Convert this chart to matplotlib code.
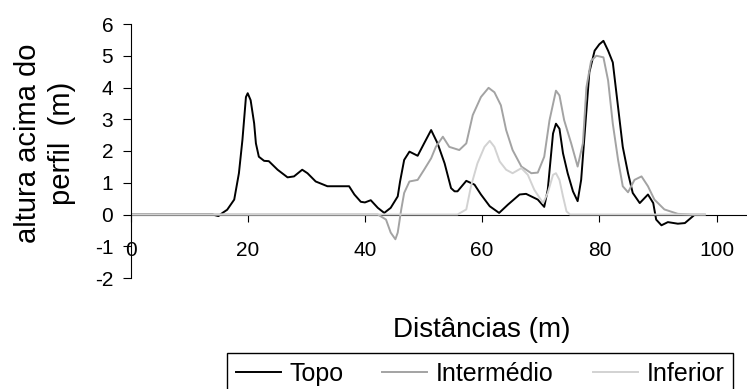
import matplotlib
matplotlib.use("Agg")
import matplotlib.pyplot as plt

plt.rcParams['font.family'] = ['Liberation Sans', 'DejaVu Sans']
plt.rcParams['axes.unicode_minus'] = False

# perfil Topo
topo_d = [0, 14, 15, 15.7, 16.5, 17.7, 18.5, 19.1, 19.7, 20, 20.5, 21.1, 21.4, 21.9, 22.8,
          23.6, 25.1, 26.8, 27.9, 29.3, 30.2, 31.6, 33.6, 37.3, 38.2, 39.3, 40.0, 41, 42.2,
          43.3, 44.4, 45.6, 46, 46.7, 47.6, 49, 50.1, 51.3, 52.4, 53.6, 54.7, 55.3, 55.8,
          57.3, 58.7, 59.8, 61.3, 62.9, 64.4, 66.4, 67.5, 69.5, 70.6, 71.2, 72.1, 72.6,
          73.2, 73.8, 74.6, 75.5, 76.3, 76.9, 77.8, 78.3, 79.2, 80, 80.7, 81.5, 82.3, 83.2,
          84, 84.9, 85.7, 86.9, 88.3, 89.2, 89.7, 90.6, 91.7, 93.4, 94.6, 96]
topo_h = [0, 0, -0.05, 0.05, 0.15, 0.47, 1.3, 2.35, 3.7, 3.82, 3.6, 2.87, 2.24, 1.82, 1.69,
          1.68, 1.41, 1.17, 1.2, 1.41, 1.3, 1.04, 0.89, 0.89, 0.63, 0.4, 0.38, 0.45, 0.21,
          0.05, 0.21, 0.57, 1.04, 1.72, 1.98, 1.85, 2.24, 2.66, 2.24, 1.61, 0.83, 0.73, 0.73,
          1.06, 0.94, 0.63, 0.26, 0.05, 0.31, 0.63, 0.65, 0.47, 0.24, 0.78, 2.55, 2.86,
          2.7, 1.93, 1.3, 0.73, 0.42, 1.09, 3.28, 4.48, 5.16, 5.36, 5.47, 5.16, 4.79, 3.38,
          2.13, 1.3, 0.68, 0.36, 0.63, 0.36, -0.16, -0.34, -0.24, -0.29, -0.27, -0.05]

# perfil Intermedio
inter_d = [0, 42.2, 43.6, 44.4, 45.2, 45.6, 46.2, 46.7, 47.6, 49, 50.1, 51.3, 52.1, 53.3,
           54.4, 56.1, 57.3, 58.4, 59.8, 61.1, 62.1, 63.2, 64.1, 65.2, 66.7, 68.4, 69.5,
           70.6, 71.5, 72.6, 73.2, 74, 75.2, 76.3, 77.2, 77.8, 78.6, 79.5, 80.7, 81.5, 82.3,
           83.2, 84, 84.9, 86, 87.2, 88.3, 89.4, 91.1, 93.4, 95.7, 98]
inter_h = [0, 0, -0.16, -0.57, -0.78, -0.57, 0.16, 0.68, 1.04, 1.09, 1.41, 1.77, 2.13, 2.45,
           2.13, 2.03, 2.24, 3.13, 3.7, 3.99, 3.85, 3.44, 2.66, 2.03, 1.51, 1.3, 1.32,
           1.82, 2.97, 3.9, 3.75, 2.97, 2.24, 1.51, 2.24, 4.01, 4.84, 5.0, 4.95, 4.22, 2.86,
           1.72, 0.89, 0.7, 1.09, 1.2, 0.89, 0.47, 0.16, 0.02, 0, 0]

# perfil Inferior
infer_d = [0, 55.8, 57.3, 58.1, 59.2, 60.4, 61.3, 62.1, 63, 64.1, 65.2, 66.7, 67.8, 68.9,
           70.4, 71.2, 72.1, 72.6, 73.2, 73.8, 74.4, 75, 98]
infer_h = [0, 0, 0.16, 0.89, 1.61, 2.13, 2.32, 2.13, 1.67, 1.41, 1.3, 1.46, 1.25, 0.78,
           0.36, 0.68, 1.25, 1.3, 1.09, 0.57, 0.1, 0, 0]

fig = plt.figure(figsize=(7.47, 3.89), dpi=100)
ax = fig.add_axes([130.5/747, 1-278/389, 1-130.5/747, (278-24)/389])

ax.plot(topo_d, topo_h, color="black", linewidth=1.4, label="Topo")
ax.plot(inter_d, inter_h, color="#a3a3a3", linewidth=1.4, label="Intermédio")
ax.plot(infer_d, infer_h, color="#d2d2d2", linewidth=1.4, label="Inferior")

ax.set_xlim(0, 105.2)
ax.set_ylim(-2, 6)
ax.set_xticks([0, 20, 40, 60, 80, 100])
ax.set_yticks(range(-2, 7))
ax.spines['top'].set_visible(False)
ax.spines['right'].set_visible(False)
ax.spines['bottom'].set_position(('data', 0))
ax.spines['bottom'].set_zorder(0)
ax.spines['left'].set_linewidth(0.8)
ax.spines['bottom'].set_linewidth(0.8)
ax.tick_params(axis='x', direction='out', length=5, width=0.8, pad=14, labelsize=15)
ax.tick_params(axis='y', direction='out', length=5.5, width=0.8, pad=7, labelsize=15)

fig.text(482/747, 1-337/389, "Distâncias (m)", fontsize=20, ha='center', va='baseline')
fig.text(45/747, 1-143/389, "altura acima do\nperfil  (m)", fontsize=21, rotation=90,
         ha='center', va='center', multialignment='center', linespacing=1.25)

leg = fig.legend(loc='upper right', bbox_to_anchor=(733/747, 1-353/389),
                 ncol=3, fontsize=18, frameon=True, fancybox=False,
                 edgecolor='black', framealpha=1, borderaxespad=0, handlelength=1.8,
                 handletextpad=0.35, borderpad=0.35, columnspacing=1.55)
leg.get_frame().set_linewidth(1.0)

fig.savefig("out.png", dpi=100)
